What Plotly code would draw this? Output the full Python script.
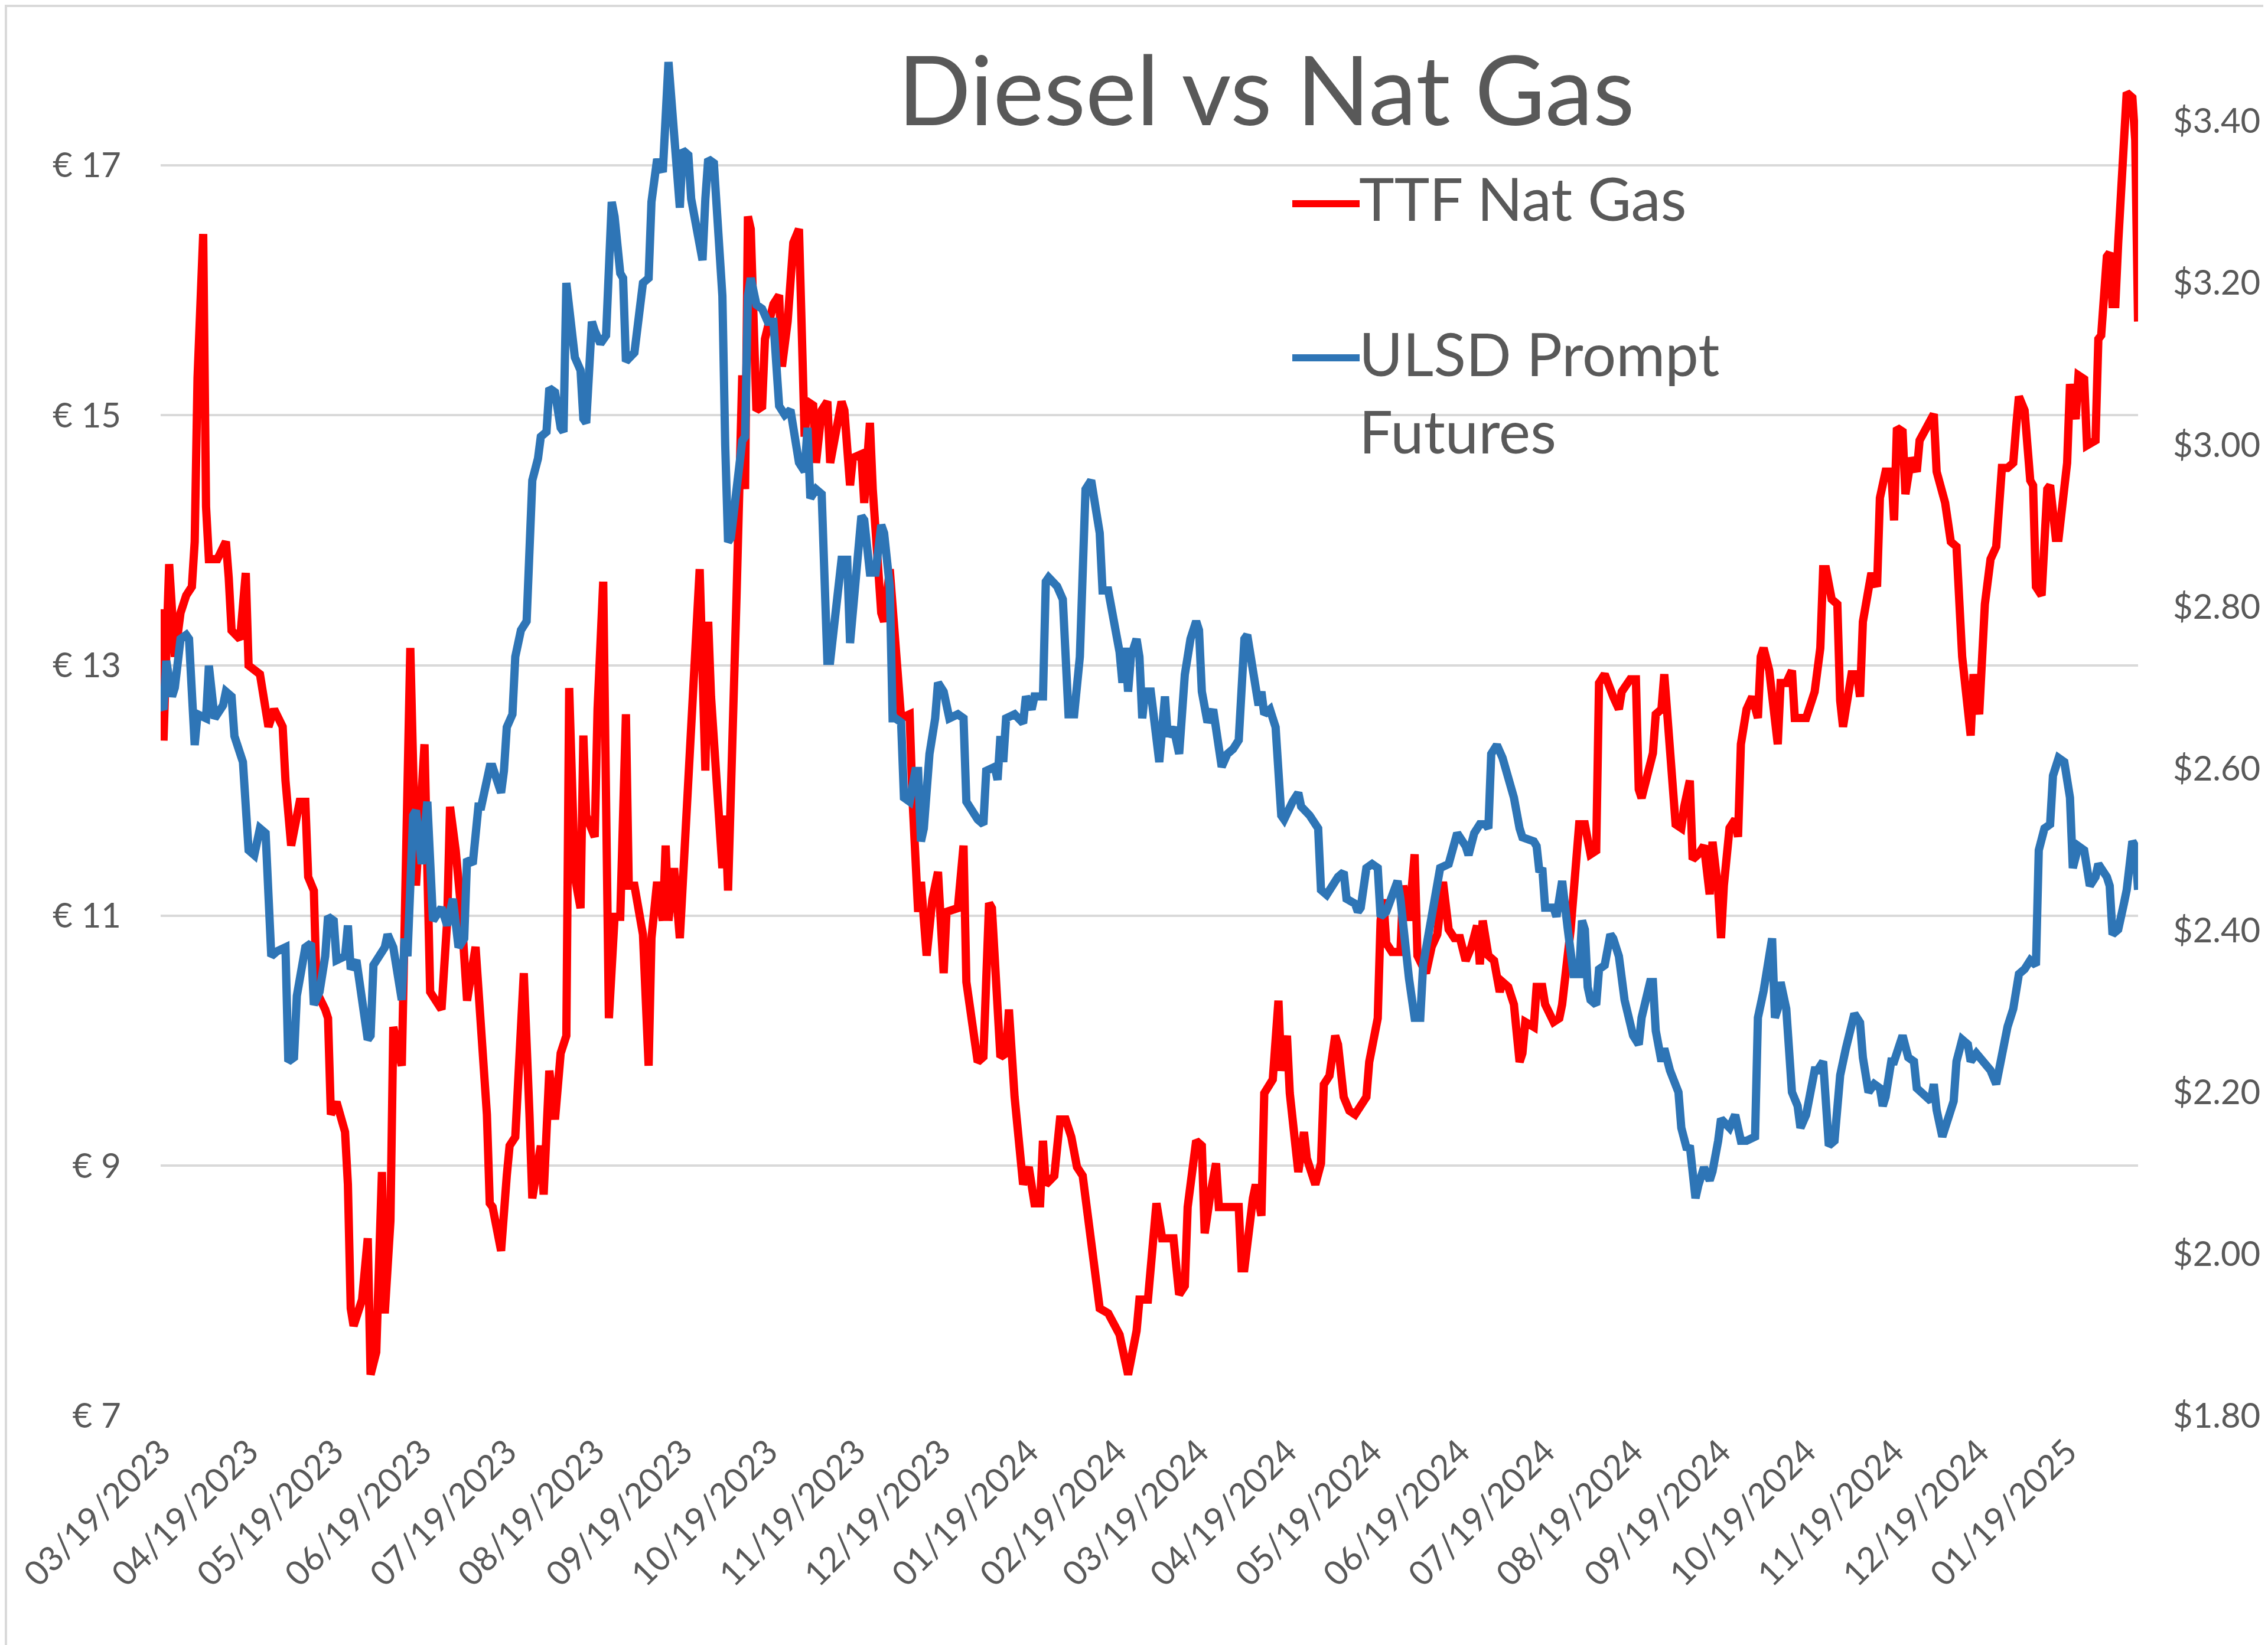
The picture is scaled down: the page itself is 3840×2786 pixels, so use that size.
import pandas as pd
import plotly.graph_objects as go

# ---------------- data ----------------
START_DATE = "2023-03-19"   # first date on the x axis
END_DATE = "2025-02-13"     # last date on the x axis

# TTF Nat Gas (EUR, left axis): (days since START_DATE, value)
ttf_points = [
    (0, 13.45), (1, 12.4), (3, 13.81), (5, 13.07), (7, 13.42), (9, 13.56), (11, 13.63), (12, 13.99),
    (13, 15.3), (15, 16.45), (16, 14.27), (17, 13.85), (20, 13.85), (23, 13.99), (24, 13.70), (25, 13.28),
    (28, 13.21), (30, 13.74), (31, 13.0), (35, 12.93), (38, 12.51), (40, 12.65), (43, 12.51), (44, 12.08),
    (46, 11.56), (49, 11.91), (51, 11.91), (52, 11.31), (54, 11.2), (55, 10.39), (58, 10.25), (59, 10.18),
    (60, 9.41), (62, 9.51), (65, 9.27), (66, 8.85), (67, 7.86), (68, 7.72), (71, 7.93), (73, 8.42),
    (74, 7.33), (76, 7.51), (78, 8.95), (79, 7.82), (81, 8.56), (82, 10.11), (85, 9.80), (86, 10.96),
    (87, 12.51), (88, 13.14), (90, 11.24), (93, 12.37), (95, 10.39), (99, 10.25), (101, 10.96), (102, 11.87),
    (104, 11.52), (106, 11.03), (108, 10.32), (111, 10.75), (115, 9.41), (116, 8.70), (117, 8.67), (120, 8.32),
    (122, 8.92), (123, 9.16), (125, 9.23), (128, 10.54), (130, 9.41), (131, 8.74), (134, 9.16), (135, 8.77),
    (137, 9.76), (139, 9.37), (141, 9.90), (143, 10.04), (144, 12.82), (145, 11.94), (146, 11.31), (148, 11.06),
    (149, 12.44), (150, 11.8), (153, 11.63), (154, 12.65), (156, 13.67), (158, 10.18), (160, 10.99), (162, 10.99),
    (164, 12.61), (165, 11.24), (167, 11.24), (170, 10.85), (172, 9.80), (173, 10.82), (175, 11.27), (177, 10.96),
    (178, 11.56), (179, 10.96), (181, 11.38), (183, 10.82), (185, 11.66), (187, 12.44), (190, 13.77), (192, 12.16),
    (193, 13.35), (194, 12.75), (197, 11.87), (198, 11.38), (199, 11.8), (200, 11.2), (203, 13.56), (205, 15.32),
    (206, 14.41), (207, 16.59), (208, 16.49), (210, 15.04), (212, 15.07), (213, 15.61), (216, 15.89), (218, 15.96),
    (219, 15.39), (221, 15.75), (223, 16.38), (225, 16.49), (227, 14.83), (228, 15.11), (230, 15.08), (231, 14.62),
    (233, 15.04), (235, 15.11), (236, 14.62), (238, 14.9), (240, 15.11), (241, 15.04), (243, 14.44), (244, 14.66),
    (247, 14.69), (248, 14.30), (250, 14.94), (251, 14.41), (254, 13.42), (255, 13.35), (257, 13.77), (261, 12.58),
    (264, 12.61), (265, 11.94), (267, 11.03), (268, 11.27), (270, 10.68), (272, 11.13), (274, 11.35), (276, 10.54),
    (277, 11.03), (281, 11.06), (283, 11.56), (284, 10.47), (288, 9.83), (290, 9.87), (292, 11.1), (293, 11.06),
    (296, 9.87), (298, 9.9), (299, 10.25), (301, 9.55), (304, 8.85), (306, 8.99), (308, 8.7), (310, 8.7),
    (311, 9.2), (312, 8.85), (315, 8.92), (317, 9.37), (319, 9.37), (321, 9.23), (323, 8.99), (325, 8.92),
    (331, 7.86), (334, 7.82), (338, 7.65), (341, 7.33), (344, 7.68), (345, 7.93), (348, 7.93), (351, 8.7),
    (353, 8.42), (355, 8.42), (357, 8.42), (359, 7.97), (361, 8.04), (362, 8.67), (365, 9.2), (367, 9.16),
    (368, 8.46), (370, 8.77), (372, 9.02), (373, 8.67), (376, 8.67), (380, 8.67), (381, 8.18), (382, 8.18),
    (385, 8.74), (386, 8.85), (388, 8.6), (389, 9.58), (392, 9.69), (394, 10.32), (395, 9.76), (397, 10.04),
    (398, 9.58), (401, 8.95), (403, 9.27), (404, 9.06), (407, 8.85), (409, 9.02), (410, 9.65), (412, 9.72),
    (414, 10.04), (415, 9.97), (417, 9.55), (419, 9.44), (421, 9.41), (422, 9.44), (425, 9.55), (426, 9.83),
    (428, 10.04), (429, 10.18), (430, 10.96), (431, 11.13), (432, 10.78), (434, 10.71), (437, 10.71), (438, 11.24),
    (440, 10.96), (442, 11.49), (443, 10.68), (446, 10.54), (448, 10.75), (450, 10.85), (452, 11.27), (454, 10.89),
    (456, 10.82), (458, 10.82), (460, 10.64), (462, 10.75), (464, 10.92), (465, 10.61), (466, 10.96), (468, 10.68),
    (470, 10.64), (472, 10.39), (473, 10.47), (475, 10.43), (477, 10.29), (479, 9.83), (480, 9.9), (481, 10.15),
    (484, 10.11), (485, 10.43), (487, 10.43), (488, 10.29), (491, 10.15), (493, 10.18), (494, 10.29), (497, 10.89),
    (500, 11.73), (502, 11.73), (504, 11.49), (506, 11.52), (507, 12.86), (509, 12.93), (512, 12.75), (514, 12.65),
    (515, 12.79), (518, 12.89), (520, 12.89), (521, 12.01), (522, 11.94), (526, 12.3), (527, 12.61), (529, 12.65),
    (530, 12.93), (532, 12.3), (534, 11.73), (536, 11.7), (537, 11.87), (539, 12.08), (540, 11.45), (542, 11.49),
    (544, 11.56), (546, 11.17), (547, 11.59), (549, 11.2), (550, 10.82), (551, 11.24), (553, 11.7), (555, 11.77),
    (556, 11.63), (557, 12.37), (559, 12.65), (561, 12.75), (563, 12.58), (564, 13.07), (565, 13.14), (567, 12.96),
    (570, 12.37), (571, 12.86), (573, 12.86), (575, 12.96), (576, 12.58), (578, 12.58), (580, 12.58), (583, 12.79),
    (585, 13.14), (586, 13.77), (587, 13.77), (589, 13.53), (591, 13.49), (592, 12.72), (593, 12.51), (594, 12.65),
    (596, 12.93), (598, 12.93), (599, 12.75), (600, 13.35), (603, 13.74), (605, 13.63), (606, 14.34), (608, 14.55),
    (610, 14.55), (611, 14.16), (612, 14.9), (614, 14.87), (615, 14.37), (617, 14.66), (619, 14.55), (620, 14.8),
    (623, 14.94), (625, 15.01), (626, 14.55), (628, 14.41), (629, 14.3), (631, 13.99), (633, 13.95), (635, 13.07),
    (637, 12.58), (638, 12.44), (639, 12.93), (641, 12.61), (643, 13.49), (645, 13.85), (647, 13.95), (649, 14.58),
    (651, 14.58), (653, 14.62), (654, 14.9), (655, 15.15), (657, 15.04), (659, 14.48), (660, 14.44), (661, 13.63),
    (663, 13.56), (665, 14.41), (666, 14.44), (668, 14.02), (669, 14.02), (672, 14.62), (673, 15.25), (675, 14.97),
    (676, 15.32), (678, 15.29), (679, 14.76), (682, 14.8), (683, 15.61), (684, 15.64), (686, 16.27), (687, 16.3),
    (688, 15.89), (689, 15.89), (690, 16.38), (692, 17.15), (693, 17.58), (695, 17.54), (696, 17.2), (697, 15.75),
]

# ULSD Prompt Futures (USD, right axis): (days since START_DATE, value)
ulsd_points = [
    (0, 2.678), (1, 2.673), (2, 2.733), (4, 2.689), (5, 2.70), (7, 2.76), (9, 2.765), (10, 2.76),
    (12, 2.629), (13, 2.667), (16, 2.662), (17, 2.727), (19, 2.662), (22, 2.678), (23, 2.695), (25, 2.689),
    (26, 2.64), (29, 2.608), (31, 2.499), (33, 2.493), (35, 2.526), (37, 2.52), (39, 2.368), (41, 2.374),
    (44, 2.379), (45, 2.238), (47, 2.243), (48, 2.319), (51, 2.379), (53, 2.384), (54, 2.308), (56, 2.324),
    (58, 2.368), (59, 2.417), (61, 2.412), (62, 2.363), (65, 2.368), (66, 2.406), (67, 2.352), (69, 2.363),
    (73, 2.265), (74, 2.27), (75, 2.357), (79, 2.379), (80, 2.395), (82, 2.379), (85, 2.314), (86, 2.39),
    (87, 2.368), (89, 2.542), (90, 2.548), (92, 2.482), (94, 2.559), (96, 2.412), (99, 2.428), (101, 2.406),
    (103, 2.439), (105, 2.379), (107, 2.39), (108, 2.488), (110, 2.482), (112, 2.553), (113, 2.553), (115, 2.586),
    (116, 2.602), (117, 2.602), (120, 2.57), (121, 2.597), (122, 2.651), (124, 2.667), (125, 2.738), (127, 2.771),
    (129, 2.782), (131, 2.956), (133, 2.983), (134, 3.01), (136, 3.016), (137, 3.07), (139, 3.065), (141, 3.021),
    (142, 3.016), (143, 3.2), (145, 3.14), (146, 3.108), (148, 3.092), (149, 3.032), (150, 3.027), (152, 3.152),
    (153, 3.141), (155, 3.125), (157, 3.135), (159, 3.30), (160, 3.282), (162, 3.212), (163, 3.206), (164, 3.103),
    (167, 3.114), (170, 3.2), (172, 3.206), (173, 3.30), (175, 3.353), (177, 3.337), (179, 3.473), (181, 3.369),
    (183, 3.293), (184, 3.364), (186, 3.358), (187, 3.304), (189, 3.271), (191, 3.228), (192, 3.304), (193, 3.353),
    (195, 3.348), (197, 3.206), (198, 3.184), (199, 2.999), (200, 2.88), (201, 2.885), (203, 2.956), (205, 3.005),
    (206, 3.01), (207, 3.184), (208, 3.206), (210, 3.173), (212, 3.168), (214, 3.152), (216, 3.152), (218, 3.048),
    (220, 3.037), (222, 3.043), (225, 2.978), (227, 2.967), (228, 3.021), (229, 2.934), (231, 2.945), (233, 2.939),
    (235, 2.733), (236, 2.733), (240, 2.858), (242, 2.858), (243, 2.755), (247, 2.912), (248, 2.907), (250, 2.842),
    (252, 2.842), (254, 2.901), (255, 2.891), (257, 2.825), (258, 2.662), (259, 2.662), (261, 2.657), (262, 2.564),
    (264, 2.559), (266, 2.597), (267, 2.597), (268, 2.51), (269, 2.526), (271, 2.618), (273, 2.662), (274, 2.706),
    (276, 2.695), (278, 2.662), (281, 2.667), (283, 2.662), (284, 2.559), (288, 2.537), (290, 2.531), (291, 2.597),
    (294, 2.602), (295, 2.586), (296, 2.64), (297, 2.608), (298, 2.662), (301, 2.667), (304, 2.656), (305, 2.689),
    (307, 2.673), (308, 2.689), (311, 2.689), (312, 2.831), (313, 2.836), (316, 2.825), (318, 2.809), (320, 2.667),
    (322, 2.667), (324, 2.738), (326, 2.945), (328, 2.956), (331, 2.891), (332, 2.82), (334, 2.82), (338, 2.744),
    (339, 2.706), (340, 2.749), (341, 2.695), (342, 2.738), (344, 2.76), (345, 2.738), (346, 2.662), (347, 2.695),
    (349, 2.695), (352, 2.608), (354, 2.689), (355, 2.64), (357, 2.651), (359, 2.618), (361, 2.716), (363, 2.76),
    (365, 2.782), (366, 2.771), (367, 2.695), (369, 2.657), (371, 2.673), (374, 2.602), (376, 2.618), (378, 2.624),
    (380, 2.635), (381, 2.722), (382, 2.76), (383, 2.765), (385, 2.727), (387, 2.678), (388, 2.695), (389, 2.667),
    (391, 2.673), (393, 2.651), (395, 2.542), (396, 2.537), (399, 2.559), (401, 2.570), (402, 2.553), (405, 2.542),
    (408, 2.526), (409, 2.45), (411, 2.444), (415, 2.466), (417, 2.472), (418, 2.439), (421, 2.433), (422, 2.423),
    (423, 2.428), (425, 2.477), (427, 2.482), (429, 2.477), (430, 2.417), (432, 2.423), (436, 2.461), (437, 2.439),
    (440, 2.341), (442, 2.292), (444, 2.292), (445, 2.357), (448, 2.417), (451, 2.477), (454, 2.482), (456, 2.515),
    (457, 2.52), (460, 2.504), (461, 2.493), (463, 2.52), (465, 2.531), (467, 2.531), (468, 2.526), (469, 2.618),
    (471, 2.629), (473, 2.613), (475, 2.586), (477, 2.564), (479, 2.526), (480, 2.515), (484, 2.51), (485, 2.504),
    (486, 2.472), (487, 2.477), (488, 2.428), (491, 2.428), (492, 2.417), (494, 2.461), (496, 2.401), (498, 2.346),
    (500, 2.346), (501, 2.412), (502, 2.401), (503, 2.33), (504, 2.314), (506, 2.308), (507, 2.352), (509, 2.357),
    (511, 2.395), (512, 2.39), (514, 2.368), (516, 2.314), (519, 2.27), (521, 2.259), (522, 2.292), (525, 2.336),
    (526, 2.336), (527, 2.276), (529, 2.238), (530, 2.254), (532, 2.227), (533, 2.216), (535, 2.2), (536, 2.156),
    (538, 2.129), (539, 2.134), (541, 2.069), (542, 2.085), (544, 2.107), (546, 2.091), (547, 2.102), (549, 2.14),
    (550, 2.167), (553, 2.156), (555, 2.172), (557, 2.14), (559, 2.14), (562, 2.145), (563, 2.292), (565, 2.325),
    (568, 2.39), (569, 2.292), (570, 2.303), (571, 2.336), (573, 2.303), (575, 2.2), (577, 2.183), (578, 2.156),
    (580, 2.172), (583, 2.227), (584, 2.227), (586, 2.238), (588, 2.134), (590, 2.14), (592, 2.221), (594, 2.254),
    (597, 2.297), (599, 2.286), (600, 2.243), (602, 2.2), (604, 2.21), (606, 2.205), (607, 2.183), (608, 2.194),
    (610, 2.238), (611, 2.238), (613, 2.265), (614, 2.27), (616, 2.243), (618, 2.238), (619, 2.205), (622, 2.194),
    (624, 2.189), (625, 2.21), (626, 2.178), (628, 2.145), (630, 2.172), (632, 2.189), (633, 2.238), (635, 2.265),
    (637, 2.259), (638, 2.238), (640, 2.248), (642, 2.238), (645, 2.227), (647, 2.21), (649, 2.248), (651, 2.281),
    (653, 2.303), (655, 2.346), (657, 2.352), (659, 2.363), (661, 2.357), (662, 2.499), (664, 2.526), (666, 2.531),
    (667, 2.591), (669, 2.613), (671, 2.608), (673, 2.564), (674, 2.477), (676, 2.504), (678, 2.499), (680, 2.455),
    (682, 2.466), (683, 2.482), (686, 2.466), (687, 2.455), (688, 2.395), (690, 2.401), (692, 2.433), (693, 2.45),
    (695, 2.51), (696, 2.504), (697, 2.45),
]

# x tick labels (one per month)
month_ticks = [
    "2023-03-19", "2023-04-19", "2023-05-19", "2023-06-19", "2023-07-19", "2023-08-19",
    "2023-09-19", "2023-10-19", "2023-11-19", "2023-12-19", "2024-01-19", "2024-02-19",
    "2024-03-19", "2024-04-19", "2024-05-19", "2024-06-19", "2024-07-19", "2024-08-19",
    "2024-09-19", "2024-10-19", "2024-11-19", "2024-12-19", "2025-01-19",
]
eur_ticks = [7, 9, 11, 13, 15, 17]
eur_labels = ["€ 7", "€ 9", "€ 11", "€ 13", "€ 15", "€ 17"]
usd_ticks = [1.8, 2.0, 2.2, 2.4, 2.6, 2.8, 3.0, 3.2, 3.4]

TITLE = "Diesel vs Nat Gas"
TTF_NAME = "TTF Nat Gas"
ULSD_NAME = "ULSD Prompt Futures"

# ---------------- build ----------------
start = pd.Timestamp(START_DATE)
ttf_day = [d for d, _ in ttf_points]
ttf_val = [v for _, v in ttf_points]
ulsd_day = [d for d, _ in ulsd_points]
ulsd_val = [v for _, v in ulsd_points]
ttf_dates = start + pd.to_timedelta(ttf_day, unit="D")
ulsd_dates = start + pd.to_timedelta(ulsd_day, unit="D")

RED = "#FF0000"
BLUE = "#2E75B6"
GREY_TXT = "#595959"
GRID = "#D9D9D9"
FONT = "Lato, 'Open Sans', sans-serif"

W, H = 3840, 2786
ML, MR, MT, MB = 264, 228, 60, 396
PW, PH = W - ML - MR, H - MT - MB


def px_to_paper_x(px):
    return (px - ML) / PW


def px_to_paper_y(py):
    return (H - MB - py) / PH


fig = go.Figure()
fig.add_trace(go.Scatter(
    x=ttf_dates, y=ttf_val, mode="lines", name=TTF_NAME, yaxis="y",
    line=dict(color=RED, width=14), showlegend=False,
))
fig.add_trace(go.Scatter(
    x=ulsd_dates, y=ulsd_val, mode="lines", name=ULSD_NAME, yaxis="y2",
    line=dict(color=BLUE, width=14), showlegend=False,
))

tickfont = dict(family=FONT, size=58, color=GREY_TXT)

fig.update_layout(
    width=W, height=H,
    margin=dict(l=ML, r=MR, t=MT, b=MB, pad=0),
    paper_bgcolor="white", plot_bgcolor="white",
    font=dict(family=FONT, color=GREY_TXT),
    showlegend=False,
    xaxis=dict(
        type="date", range=[START_DATE, END_DATE],
        tickvals=month_ticks, tickformat="%m/%d/%Y", tickangle=-45,
        showgrid=False, showline=False, zeroline=False, ticks="",
        tickfont=tickfont, ticklabelstandoff=14,
    ),
    yaxis=dict(
        range=[7, 18], tickvals=eur_ticks, ticktext=eur_labels,
        showgrid=True, gridcolor=GRID, gridwidth=4,
        showline=False, zeroline=False, ticks="",
        tickfont=tickfont, ticklabelstandoff=66,
    ),
    yaxis2=dict(
        range=[1.8, 3.5], tickvals=usd_ticks, tickformat="$.2f",
        overlaying="y", side="right",
        showgrid=False, showline=False, zeroline=False, ticks="",
        tickfont=tickfont, ticklabelstandoff=58,
    ),
)

# Title (overlaid on the plot area, like the original)
fig.add_annotation(
    text=TITLE, xref="paper", yref="paper",
    x=px_to_paper_x(2136), y=px_to_paper_y(141),
    xanchor="center", yanchor="middle", showarrow=False,
    font=dict(family=FONT, size=163, color=GREY_TXT),
)

# Legend drawn inside the plot area (long line samples like the original)
legend_items = [
    (TTF_NAME, RED, 337, 327),
    ("ULSD Prompt<br>Futures", BLUE, 598, 655),
]
for label, color, line_y, text_y in legend_items:
    fig.add_shape(
        type="line", xref="paper", yref="paper",
        x0=px_to_paper_x(2180), x1=px_to_paper_x(2294),
        y0=px_to_paper_y(line_y), y1=px_to_paper_y(line_y),
        line=dict(color=color, width=12),
    )
    fig.add_annotation(
        text=label, xref="paper", yref="paper",
        x=px_to_paper_x(2291), y=px_to_paper_y(text_y),
        xanchor="left", yanchor="middle", align="left", showarrow=False,
        font=dict(family=FONT, size=101, color=GREY_TXT),
    )

# Chart border
fig.add_shape(
    type="rect", xref="paper", yref="paper",
    x0=px_to_paper_x(2), x1=px_to_paper_x(W - 2),
    y0=px_to_paper_y(H - 2), y1=px_to_paper_y(2),
    line=dict(color=GRID, width=4), fillcolor="rgba(0,0,0,0)", layer="below",
)

fig.write_html("out.html")
